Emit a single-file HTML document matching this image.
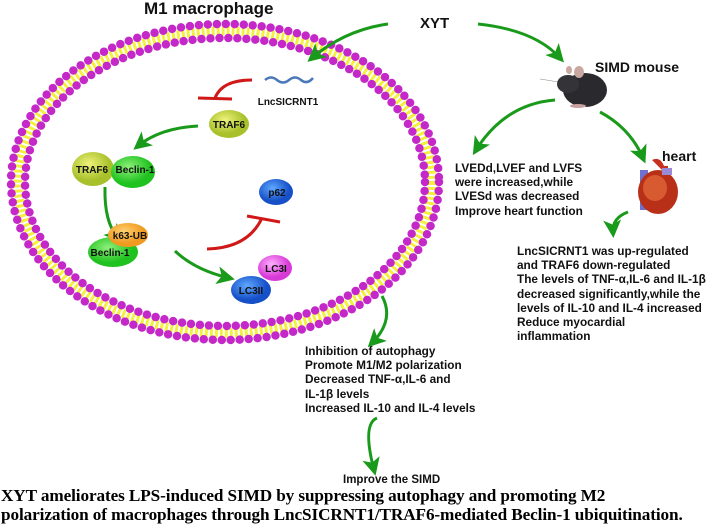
<!DOCTYPE html>
<html><head><meta charset="utf-8"><style>
body{margin:0;background:#fff;width:708px;height:522px;overflow:hidden;position:relative;font-family:"Liberation Sans",Arial,sans-serif}
.t{position:absolute;font-weight:bold;color:#111;white-space:nowrap}
.b{font-size:11.8px;line-height:14.2px}
.cap{position:absolute;left:1px;font-family:"Liberation Serif",serif;font-weight:bold;font-size:17.2px;line-height:19px;white-space:nowrap;top:486px;color:#000;letter-spacing:-0.1px}
</style></head><body>
<svg width="708" height="522" style="position:absolute;left:0;top:0">
<defs>
<marker id="g" markerWidth="6" markerHeight="6" refX="4" refY="3" orient="auto" markerUnits="strokeWidth"><path d="M0,0 L6,3 L0,6 L1.5,3 Z" fill="#1a9a1a"/></marker>
<radialGradient id="yg" cx="40%" cy="35%"><stop offset="0" stop-color="#eef27a"/><stop offset="1" stop-color="#a8c02a"/></radialGradient>
<radialGradient id="gr" cx="40%" cy="35%"><stop offset="0" stop-color="#8ff07a"/><stop offset="1" stop-color="#1fc21f"/></radialGradient>
<radialGradient id="bl" cx="40%" cy="35%"><stop offset="0" stop-color="#5fa8ff"/><stop offset="1" stop-color="#1650c8"/></radialGradient>
<radialGradient id="mg" cx="40%" cy="35%"><stop offset="0" stop-color="#ffb0ff"/><stop offset="1" stop-color="#d83ad8"/></radialGradient>
<radialGradient id="or" cx="40%" cy="35%"><stop offset="0" stop-color="#ffd070"/><stop offset="1" stop-color="#f09a20"/></radialGradient>
</defs>
<!-- membrane -->
<ellipse cx="225" cy="182" rx="207" ry="151" fill="none" stroke="#f4f040" stroke-width="9" stroke-dasharray="3 2"/>
<ellipse cx="225" cy="182" rx="214" ry="158" fill="none" stroke="#c428c8" stroke-width="8.5" stroke-linecap="round" stroke-dasharray="0 9"/>
<ellipse cx="225" cy="182" rx="200" ry="144" fill="none" stroke="#c428c8" stroke-width="8.5" stroke-linecap="round" stroke-dasharray="0 9"/>
<!-- lnc squiggle -->
<path d="M265,80 q6,-5 12,0 t12,0 t12,0 t12,-2" fill="none" stroke="#4a78b8" stroke-width="2.5"/>
<!-- red inhibits -->
<path d="M252,80 Q222,80 215,98" fill="none" stroke="#d01818" stroke-width="3"/>
<line x1="198" y1="98" x2="232" y2="99" stroke="#d01818" stroke-width="3"/>
<path d="M207,249 Q248,248 262,218" fill="none" stroke="#d01818" stroke-width="3"/>
<line x1="247" y1="216" x2="280" y2="222" stroke="#d01818" stroke-width="3"/>
<!-- green arrows -->
<g fill="none" stroke="#1a9a1a" stroke-width="3" marker-end="url(#g)">
<path d="M198,126 Q160,128 138,146"/>
<path d="M105,187 Q104,222 118,238"/>
<path d="M175,251 Q195,270 229,278"/>
<path d="M388,24 Q345,30 312,58"/>
<path d="M478,24 Q535,30 560,58"/>
<path d="M555,100 Q505,104 476,150"/>
<path d="M600,112 Q630,128 643,158"/>
<path d="M628,212 Q612,218 613,232"/>
<path d="M382,296 Q395,320 372,343"/>
<path d="M377,418 Q362,424 374,470"/>
</g>
<!-- proteins -->
<ellipse cx="229" cy="124" rx="20" ry="14" fill="url(#yg)"/>
<ellipse cx="93" cy="169" rx="21" ry="17" fill="url(#yg)"/>
<ellipse cx="133" cy="172" rx="22" ry="16" fill="url(#gr)"/>
<ellipse cx="276" cy="192" rx="17" ry="13" fill="url(#bl)"/>
<ellipse cx="113" cy="252" rx="25" ry="15" fill="url(#gr)"/>
<ellipse cx="128" cy="235" rx="20" ry="12" fill="url(#or)"/>
<ellipse cx="275" cy="268" rx="17" ry="13" fill="url(#mg)"/>
<ellipse cx="251" cy="290" rx="20" ry="14" fill="url(#bl)"/>
<g font-family="Liberation Sans,Arial,sans-serif" font-weight="bold" font-size="10" text-anchor="middle" fill="#111">
<text x="288" y="105">LncSICRNT1</text>
<text x="229" y="128">TRAF6</text>
<text x="92" y="173">TRAF6</text>
<text x="135" y="173">Beclin-1</text>
<text x="277" y="196">p62</text>
<text x="110" y="256">Beclin-1</text>
<text x="130" y="239">k63-UB</text>
<text x="276" y="272">LC3I</text>
<text x="251" y="294">LC3II</text>
</g>
<!-- mouse -->
<g>
<line x1="540" y1="79" x2="565" y2="83" stroke="#888" stroke-width="0.6"/>
<ellipse cx="585" cy="90" rx="22" ry="17" fill="#2a2a2e"/>
<ellipse cx="568" cy="84" rx="11" ry="9" fill="#333338"/>
<ellipse cx="579" cy="72" rx="5" ry="6" fill="#c8a8a0"/>
<ellipse cx="569" cy="70" rx="3" ry="4" fill="#c8a8a0"/>
<ellipse cx="578" cy="106" rx="8" ry="2" fill="#c8a0a0"/>
</g>
<!-- heart -->
<g>
<rect x="640" y="170" width="8" height="40" fill="#7070d0"/>
<path d="M652,160 q8,-4 12,6 l4,0 l0,10 z" fill="#c83020"/>
<ellipse cx="658" cy="192" rx="20" ry="22" fill="#b83018"/>
<ellipse cx="655" cy="188" rx="12" ry="13" fill="#d85a30"/>
<rect x="662" y="168" width="10" height="7" fill="#9a8ad8"/>
</g>
</svg>
<div class="t" style="left:144px;top:-1px;font-size:17px">M1 macrophage</div>
<div class="t" style="left:420px;top:15px;font-size:15px">XYT</div>
<div class="t" style="left:595px;top:59px;font-size:14px">SIMD mouse</div>
<div class="t" style="left:662px;top:148px;font-size:14px">heart</div>
<div class="t b" style="left:455px;top:161px">LVEDd,LVEF and LVFS<br>were increased,while<br>LVESd was decreased<br>Improve heart function</div>
<div class="t b" style="left:517px;top:244px">LncSICRNT1 was up-regulated<br>and TRAF6 down-regulated<br>The levels of TNF-α,IL-6 and IL-1β<br>decreased significantly,while the<br>levels of IL-10 and IL-4 increased<br>Reduce myocardial<br>inflammation</div>
<div class="t b" style="left:305px;top:344px">Inhibition of autophagy<br>Promote M1/M2 polarization<br>Decreased TNF-α,IL-6 and<br>IL-1β levels<br>Increased IL-10 and IL-4 levels</div>
<div class="t" style="left:343px;top:474px;font-size:11.5px">Improve the SIMD</div>
<div class="cap">XYT ameliorates LPS-induced SIMD by suppressing autophagy and promoting M2<br>polarization of macrophages through LncSICRNT1/TRAF6-mediated Beclin-1 ubiquitination.</div>
</body></html>
